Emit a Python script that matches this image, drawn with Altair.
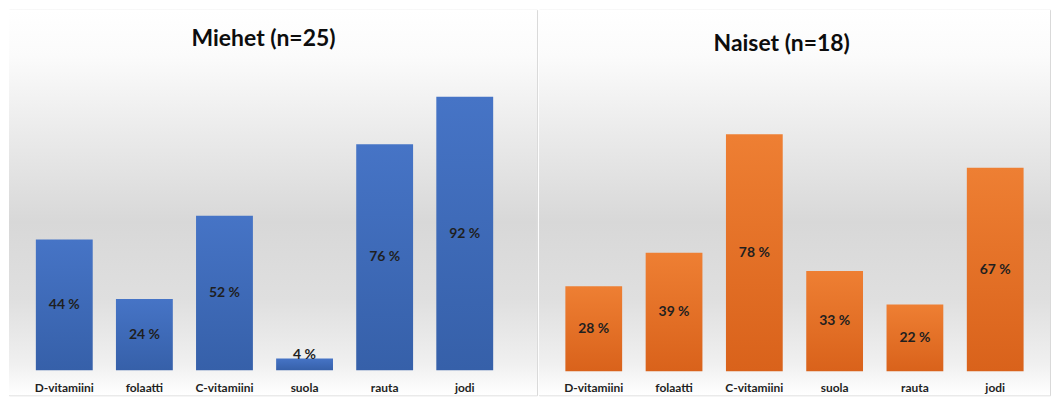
import altair as alt
import pandas as pd

categories = ["D-vitamiini", "folaatti", "C-vitamiini", "suola", "rauta", "jodi"]
men_values = [44, 24, 52, 4, 76, 92]
women_values = [28, 39, 78, 33, 22, 67]
men_title = "Miehet (n=25)"
women_title = "Naiset (n=18)"

FONT = "Lato"
TEXT_COLOR = "#1f1f1f"


def grad(stops):
    return alt.Gradient(
        gradient="linear", x1=0, x2=0, y1=0, y2=1,
        stops=[alt.GradientStop(color=c, offset=o) for o, c in stops],
    )


BG = grad([(0, "#ffffff"), (0.12, "#fbfbfb"), (0.55, "#d8d8d8"),
           (0.75, "#dfdfdf"), (0.92, "#f0f0f0"), (1, "#ffffff")])


def panel(values, title, top_color, bottom_color, width, height,
          x_range, y_range, pad_inner, title_x, title_y):
    df = pd.DataFrame({"cat": categories, "v": values})
    x = alt.X(
        "cat:N", sort=categories,
        scale=alt.Scale(range=x_range, paddingInner=pad_inner,
                        paddingOuter=pad_inner / 2),
        axis=alt.Axis(title=None, orient="bottom", offset=-15, domain=False,
                      ticks=False, labelPadding=2, labelFont=FONT,
                      labelFontSize=12, labelFontWeight="bold",
                      labelColor=TEXT_COLOR, labelAngle=0, zindex=1),
    )
    yscale = alt.Scale(domain=[0, 100], range=y_range)

    bg = alt.Chart(alt.Data(values=[{}])).mark_rect(color=BG).encode(
        x=alt.value(0), x2=alt.value("width"),
        y=alt.value(0), y2=alt.value("height"),
    )
    bars = alt.Chart(df).mark_bar(
        color=grad([(0, top_color), (1, bottom_color)])
    ).encode(x=x, y=alt.Y("v:Q", scale=yscale, axis=None))
    labels = alt.Chart(df).transform_calculate(
        lp="max(datum.v / 2, 5)", label="datum.v + ' %'"
    ).mark_text(font=FONT, fontSize=14, fontWeight="bold", color=TEXT_COLOR,
                baseline="middle").encode(
        x=x, y=alt.Y("lp:Q", scale=yscale, axis=None), text="label:N"
    )
    ttl = alt.Chart(alt.Data(values=[{"t": title}])).mark_text(
        font=FONT, fontSize=23, fontWeight="bold", color="#0d0d0d",
        baseline="middle", align="center"
    ).encode(x=alt.value(title_x), y=alt.value(title_y), text="t:N")

    return alt.layer(bg, bars, labels, ttl).properties(
        width=width, height=height,
        view=alt.ViewBackground(stroke="#d9d9d9", strokeWidth=1),
    )


left = panel(men_values, men_title, "#4674c6", "#3660a9", 530, 387,
             [15.3, 497.7], [362, 63.4], 0.29, 255.5, 29)
right = panel(women_values, women_title, "#ee7f33", "#d9621b", 513, 387,
              [14.7, 498.3], [363, 58], 0.293, 243.7, 34)

chart = alt.hconcat(left, right, spacing=0).properties(padding=0).configure_view(
    stroke="#d9d9d9"
)

chart.save("out.html", embed_options={"renderer": "svg", "actions": False})
